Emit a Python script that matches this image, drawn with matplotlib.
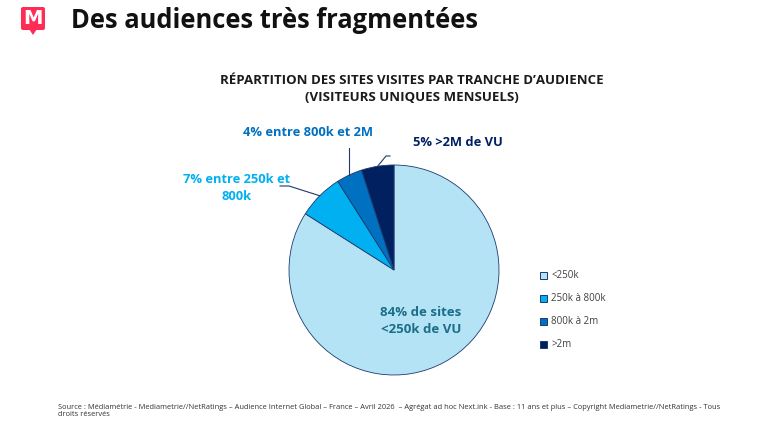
import matplotlib
matplotlib.use("Agg")
import matplotlib.pyplot as plt
from matplotlib.patches import FancyBboxPatch, Polygon, Rectangle
import numpy as np

plt.rcParams['font.family'] = ['Open Sans', 'DejaVu Sans']

# data
categories = ['<250k', '250k à 800k', '800k à 2m', '>2m']
shares = [84, 7, 4, 5]
colors = ['#b3e3f4', '#00b0f0', '#0070c0', '#002060']
slice_labels = ['84% de sites\n<250k de VU', '7% entre 250k et\n800k',
                '4% entre 800k et 2M', '5% >2M de VU']
label_colors = ['#1a6e87', '#00b0f0', '#0070c0', '#002060']

title = 'Des audiences très fragmentées'
chart_title = "RÉPARTITION DES SITES VISITES PAR TRANCHE D’AUDIENCE\n(VISITEURS UNIQUES MENSUELS)"
source = ("Source : Médiamétrie - Mediametrie//NetRatings – Audience Internet Global – France – Avril 2026  – "
          "Agrégat ad hoc Next.ink - Base : 11 ans et plus – Copyright Mediametrie//NetRatings - Tous\ndroits réservés")

W, H = 770, 429
fig = plt.figure(figsize=(W / 100, H / 100), dpi=100)

# pie
cx, cy, r = 394, 270, 105
ax = fig.add_axes([(cx - r) / W, 1 - (cy + r) / H, 2 * r / W, 2 * r / H])
wedges, _ = ax.pie(shares, colors=colors, startangle=90, counterclock=False,
                   wedgeprops=dict(edgecolor='#1f3a6e', linewidth=0.6))
ax.set_xlim(-1, 1)
ax.set_ylim(-1, 1)

# overlay axes in pixel coords (y down), drawn on top of the pie
bg = fig.add_axes([0, 0, 1, 1])
bg.set_xlim(0, W)
bg.set_ylim(H, 0)
bg.axis('off')
bg.set_zorder(5)
bg.patch.set_alpha(0)

# logo
bg.add_patch(FancyBboxPatch((21, 7), 24, 23, boxstyle='round,pad=0,rounding_size=2',
                            fc='#ff2d55', ec='none'))
bg.add_patch(Polygon([[29, 29], [37, 29], [33, 35]], closed=True, fc='#ff2d55', ec='none'))
bg.text(33, 19, 'M', color='white', fontsize=14, fontweight='bold', ha='center', va='center',
        family='DejaVu Sans')

bg.text(71, 21, title, fontsize=18.4, fontweight='bold', color='#111111', va='center', ha='left')

bg.text(412, 89, chart_title, fontsize=9.5, fontweight='bold', color='#1a1a1a',
        ha='center', va='center', linespacing=1.35)


def edge_px(w, rr=1.0):
    a = np.deg2rad((w.theta1 + w.theta2) / 2)
    return cx + r * rr * np.cos(a), cy - r * rr * np.sin(a)


# labels
bg.text(421, 321, slice_labels[0], color=label_colors[0], fontsize=9.5, fontweight='bold',
        ha='center', va='center', linespacing=1.45)

bg.text(237, 188, slice_labels[1], color=label_colors[1], fontsize=9.3, fontweight='bold',
        ha='center', va='center', linespacing=1.45)
x1, y1 = edge_px(wedges[1])
bg.plot([280, 289, x1], [186, 186, y1], color='#1f3a6e', lw=0.8)

bg.text(308, 133, slice_labels[2], color=label_colors[2], fontsize=9.3, fontweight='bold',
        ha='center', va='center')
x2, y2 = edge_px(wedges[2])
bg.plot([x2, x2], [148, y2], color='#1f3a6e', lw=0.8)

bg.text(413, 143, slice_labels[3], color=label_colors[3], fontsize=9.3, fontweight='bold',
        ha='left', va='center')
x3, y3 = edge_px(wedges[3])
bg.plot([390, 386, x3], [156, 156, y3], color='#1f3a6e', lw=0.8)

# legend
for i, (cat, c) in enumerate(zip(categories, colors)):
    yy = 275 + i * 23.3
    bg.add_patch(Rectangle((540, yy - 3.5), 7, 7, fc=c, ec='#1f3a6e', lw=0.7))
    bg.text(551, yy, cat, fontsize=7, color='#404040', va='center', ha='left')

bg.text(58, 411, source, fontsize=5.45, color='#333333', ha='left', va='center', linespacing=1.0)

fig.savefig('out.png', dpi=100)
